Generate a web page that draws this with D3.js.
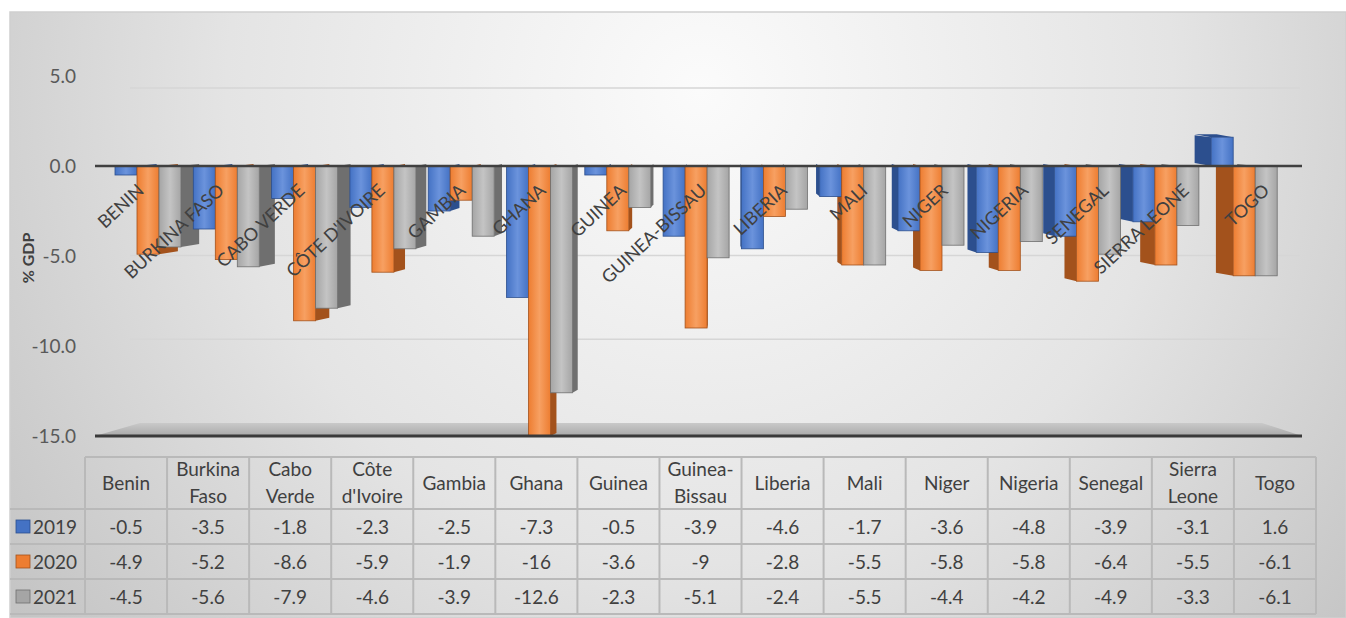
<!DOCTYPE html>
<html><head><meta charset="utf-8">
<script src="https://cdn.jsdelivr.net/npm/d3@7"></script>
<style>html,body{margin:0;padding:0;background:#fff;}svg{display:block;}</style>
</head><body>
<script>
// ---------- data ----------
const categories = ["Benin","Burkina Faso","Cabo Verde","Côte d'Ivoire","Gambia","Ghana","Guinea","Guinea-Bissau","Liberia","Mali","Niger","Nigeria","Senegal","Sierra Leone","Togo"];
const headerLines = [["Benin"],["Burkina","Faso"],["Cabo","Verde"],["Côte","d'Ivoire"],["Gambia"],["Ghana"],["Guinea"],["Guinea-","Bissau"],["Liberia"],["Mali"],["Niger"],["Nigeria"],["Senegal"],["Sierra","Leone"],["Togo"]];
const seriesNames = ["2019","2020","2021"];
const v2019 = [-0.5,-3.5,-1.8,-2.3,-2.5,-7.3,-0.5,-3.9,-4.6,-1.7,-3.6,-4.8,-3.9,-3.1,1.6];
const v2020 = [-4.9,-5.2,-8.6,-5.9,-1.9,-16,-3.6,-9,-2.8,-5.5,-5.8,-5.8,-6.4,-5.5,-6.1];
const v2021 = [-4.5,-5.6,-7.9,-4.6,-3.9,-12.6,-2.3,-5.1,-2.4,-5.5,-4.4,-4.2,-4.9,-3.3,-6.1];
const yTicks = [5,0,-5,-10,-15];
const yTitle = "% GDP";
const seriesValues = [v2019, v2020, v2021];
const colors = {face:["#4472C4","#ED7D31","#A5A5A5"], light:["#6b93dc","#f7a062","#c4c4c4"], side:["#2c4f8e","#a3521c","#6f6f6f"]};

// ---------- setup ----------
const W = 1346, H = 618;
const svg = d3.select("body").append("svg").attr("width", W).attr("height", H);
const defs = svg.append("defs");
const bg = defs.append("radialGradient").attr("id","bg").attr("gradientUnits","userSpaceOnUse")
  .attr("cx",700).attr("cy",90).attr("r",860);
bg.append("stop").attr("offset","0").attr("stop-color","#fbfbfb");
bg.append("stop").attr("offset","0.55").attr("stop-color","#e4e4e4");
bg.append("stop").attr("offset","1").attr("stop-color","#c4c4c4");
seriesNames.forEach((s,i)=>{
  const g = defs.append("linearGradient").attr("id","bar"+i).attr("x1","0").attr("x2","1").attr("y1","0").attr("y2","0");
  g.append("stop").attr("offset","0").attr("stop-color",colors.face[i]);
  g.append("stop").attr("offset","0.5").attr("stop-color",colors.light[i]);
  g.append("stop").attr("offset","1").attr("stop-color",colors.face[i]);
});
const fl = defs.append("linearGradient").attr("id","floor").attr("x1","0").attr("x2","0").attr("y1","0").attr("y2","1");
fl.append("stop").attr("offset","0").attr("stop-color","#c9c9c9");
fl.append("stop").attr("offset","1").attr("stop-color","#a9a9a9");

svg.append("rect").attr("x",10).attr("y",12).attr("width",W-10).attr("height",H-12)
  .attr("fill","url(#bg)").attr("stroke","#cfcfcf").attr("stroke-width",1.5);

const y = d3.scaleLinear().domain([-15,5]).range([436,76]);
const x = d3.scaleBand().domain(categories).range([107, 107+15*78.3]);
const xs = d3.scaleBand().domain(seriesNames).range([8,74]);
const xl = d3.scalePoint().domain(categories).range([145, 145+14*80.4]);
const xt = d3.scaleBand().domain(categories).range([85,1316]);
const fmt = d3.formatLocale({decimal:".",thousands:",",grouping:[3],currency:["",""],minus:"-"}).format(".1f");
const back = v => 249 + (y(v)-249)*0.93;
const tf = "Lato, 'Open Sans', sans-serif";

// gridlines (back wall)
svg.append("g").selectAll("line").data(yTicks.filter(t=>t!==0 && t!==-15)).join("line")
  .attr("x1",130).attr("x2",1300).attr("y1",d=>back(d)).attr("y2",d=>back(d))
  .attr("stroke","#d6d6d6").attr("stroke-width",1.5);

// floor slab
svg.append("path").attr("d",`M95,${y(-15)} L140,${y(-15)-13} L1262,${y(-15)-13} L1302,${y(-15)} Z`).attr("fill","url(#floor)");

// bars
const barData = [];
categories.forEach((c,ci)=>seriesNames.forEach((s,si)=>{
  const v = Math.max(seriesValues[si][ci], y.domain()[0]);
  barData.push({c, s, si, v});
}));
const bw = xs.bandwidth();
const k = 0.033, vx = 720;
const gBars = svg.append("g");
gBars.selectAll("path.side").data(barData).join("path").attr("class","side")
  .attr("d",d=>{
    const x0 = x(d.c)+xs(d.s), cx = x0+bw/2;
    const sw = k*(vx-cx);
    const y0 = y(0), y1 = y(d.v);
    const top = Math.min(y0,y1), bot = Math.max(y0,y1);
    const ex = sw>0 ? x0+bw : x0;
    return `M${ex},${top} L${ex+sw},${top-2} L${ex+sw},${bot-3} L${ex},${bot} Z`;
  }).attr("fill",d=>colors.side[d.si]);
gBars.selectAll("path.top").data(barData.filter(d=>d.v>0)).join("path").attr("class","top")
  .attr("d",d=>{
    const x0 = x(d.c)+xs(d.s), cx = x0+bw/2, sw = k*(vx-cx), t = y(d.v);
    return `M${x0},${t} L${x0+bw},${t} L${x0+bw+sw},${t-3} L${x0+sw},${t-3} Z`;
  }).attr("fill",d=>colors.side[d.si]);
gBars.selectAll("rect.face").data(barData).join("rect").attr("class","face")
  .attr("x",d=>x(d.c)+xs(d.s)).attr("width",bw)
  .attr("y",d=>Math.min(y(0),y(d.v))).attr("height",d=>Math.abs(y(d.v)-y(0)))
  .attr("fill",d=>`url(#bar${d.si})`).attr("stroke",d=>colors.side[d.si]).attr("stroke-width",0.8);

// zero line and floor line
svg.append("line").attr("x1",95).attr("x2",1302).attr("y1",y(0)).attr("y2",y(0)).attr("stroke","#404040").attr("stroke-width",2.5);
svg.append("line").attr("x1",95).attr("x2",1302).attr("y1",y(-15)).attr("y2",y(-15)).attr("stroke","#3a3a3a").attr("stroke-width",3);

// y axis labels
svg.append("g").selectAll("text").data(yTicks).join("text")
  .attr("x",76).attr("y",d=>y(d)+7).attr("text-anchor","end")
  .attr("font-family",tf).attr("font-size",19).attr("fill","#595959")
  .text(d=>fmt(d));
svg.append("text").attr("transform","translate(34,258) rotate(-90)").attr("text-anchor","middle")
  .attr("font-family",tf).attr("font-weight","bold").attr("font-size",16).attr("fill","#404040")
  .text(yTitle);

// category labels
svg.append("g").selectAll("text").data(categories).join("text")
  .attr("transform",d=>`translate(${xl(d)},${192}) rotate(-43)`)
  .attr("text-anchor","end")
  .attr("font-family",tf).attr("font-size",18).attr("fill","#404040")
  .text(d=>d.toUpperCase());

// data table
const rowY = [457,509,544,579,614];
const tb = svg.append("g").attr("stroke","#b9b9b9").attr("stroke-width",2);
tb.append("line").attr("x1",85).attr("x2",1316).attr("y1",rowY[0]).attr("y2",rowY[0]);
rowY.slice(1).forEach(r=>tb.append("line").attr("x1",10).attr("x2",1316).attr("y1",r).attr("y2",r));
tb.selectAll("line.v").data(categories).join("line").attr("class","v")
  .attr("x1",d=>xt(d)).attr("x2",d=>xt(d)).attr("y1",rowY[0]).attr("y2",rowY[4]);
tb.append("line").attr("x1",1316).attr("x2",1316).attr("y1",rowY[0]).attr("y2",rowY[4]);

const hdr = svg.append("g").attr("font-family",tf).attr("font-size",19).attr("fill","#404040").attr("text-anchor","middle");
categories.forEach((c,ci)=>{
  const lines = headerLines[ci];
  const cx = xt(c)+xt.bandwidth()/2;
  const t = hdr.append("text").attr("x",cx);
  if(lines.length===1){ t.attr("y",490).text(lines[0]); }
  else { lines.forEach((l,li)=>t.append("tspan").attr("x",cx).attr("y",li===0?476:503).text(l)); }
});
seriesNames.forEach((s,si)=>{
  const cy = (rowY[si+1]+rowY[si+2])/2;
  svg.append("rect").attr("x",16).attr("y",cy-6.5).attr("width",14).attr("height",13)
    .attr("fill",colors.face[si]).attr("stroke",colors.side[si]).attr("stroke-width",0.8);
  svg.append("text").attr("x",33).attr("y",cy+7).attr("font-family",tf).attr("font-size",19).attr("fill","#404040").text(s);
  svg.append("g").selectAll("text").data(categories).join("text")
    .attr("x",d=>xt(d)+xt.bandwidth()/2).attr("y",cy+7).attr("text-anchor","middle")
    .attr("font-family",tf).attr("font-size",19).attr("fill","#404040")
    .text((d,ci)=>String(seriesValues[si][ci]));
});
</script>
</body></html>
